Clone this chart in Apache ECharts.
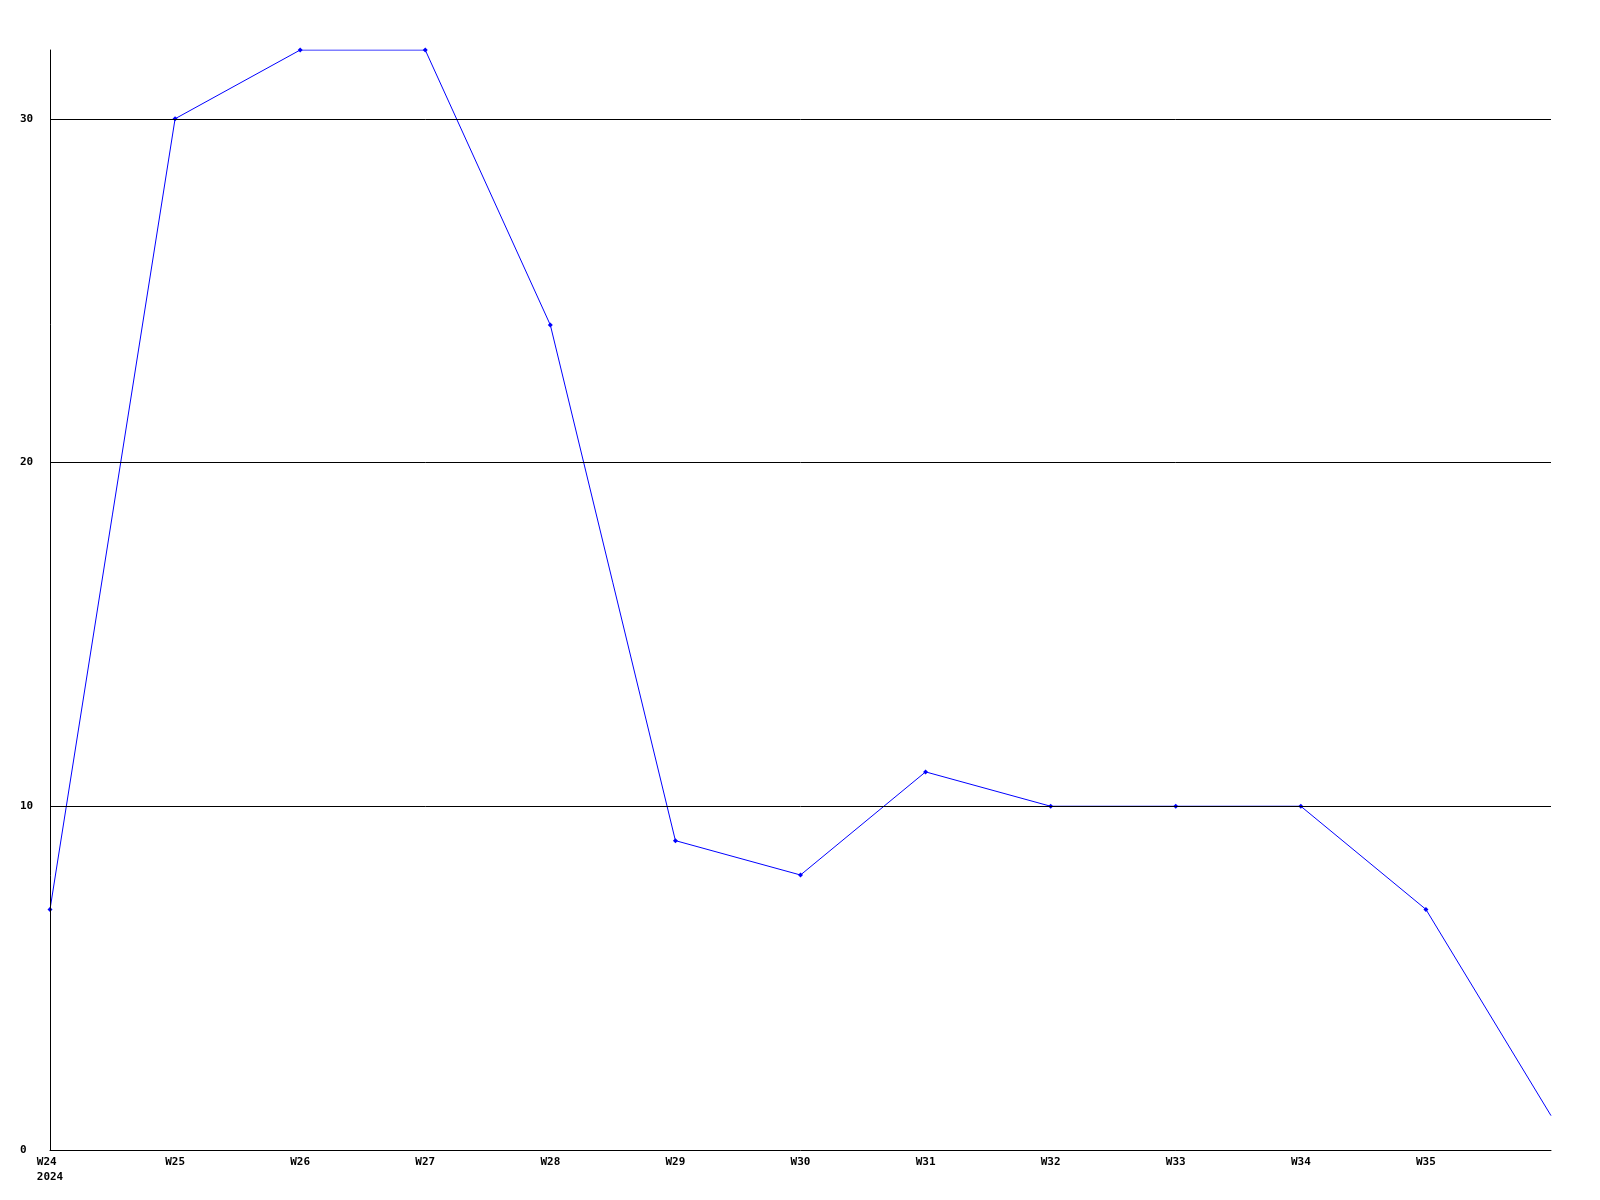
<!DOCTYPE html>
<html>
<head>
<meta charset="utf-8">
<script src="https://cdn.jsdelivr.net/npm/echarts@6/dist/echarts.min.js"></script>
<style>html,body{margin:0;padding:0;background:#fff}#c{width:1600px;height:1200px}</style>
</head>
<body>
<div id="c"></div>
<script>
var categories = ['W24', 'W25', 'W26', 'W27', 'W28', 'W29', 'W30', 'W31', 'W32', 'W33', 'W34', 'W35', 'W36'];
var xLabels = ['W24 \n2024', 'W25', 'W26', 'W27', 'W28', 'W29', 'W30', 'W31', 'W32', 'W33', 'W34', 'W35', ''];
var values = [7, 30, 32, 32, 24, 9, 8, 11, 10, 10, 10, 7, 1];
var yTicks = [0, 10, 20, 30];

var chart = echarts.init(document.getElementById('c'), null, {renderer: 'canvas'});
var font = {fontFamily: 'DejaVu Sans Mono', fontSize: 11, fontWeight: 'bold', color: '#000'};
var seriesData = values.map(function (v, i) {
  return i === values.length - 1 ? {value: v, symbol: 'none'} : v;
});
chart.setOption({
  animation: false,
  backgroundColor: '#fff',
  grid: {left: 50, right: 49, top: 50, bottom: 50},
  xAxis: {
    type: 'category',
    data: categories,
    boundaryGap: false,
    z: 10,
    axisLine: {lineStyle: {color: '#000', width: 1}},
    axisTick: {show: false},
    splitLine: {show: false},
    axisLabel: Object.assign({
      margin: 5,
      lineHeight: 15,
      verticalAlign: 'top',
      interval: 0,
      formatter: function (v, i) { return xLabels[i]; }
    }, font)
  },
  yAxis: {
    type: 'value',
    min: 0,
    max: 32,
    interval: 10,
    z: 10,
    axisLine: {show: true, lineStyle: {color: '#000', width: 1}},
    axisTick: {show: false},
    splitLine: {show: true, showMaxLine: false, showMinLine: false, lineStyle: {color: '#000', width: 1}},
    axisLabel: Object.assign({
      margin: 30,
      align: 'left',
      showMaxLabel: false,
      formatter: function (v) { return yTicks.indexOf(v) >= 0 ? String(v) : ''; }
    }, font)
  },
  series: [{
    type: 'line',
    data: seriesData,
    symbol: 'diamond',
    symbolSize: 5,
    showSymbol: true,
    z: 2,
    lineStyle: {color: '#0000ff', width: 1},
    itemStyle: {color: '#0000ff'}
  }]
});
</script>
</body>
</html>
